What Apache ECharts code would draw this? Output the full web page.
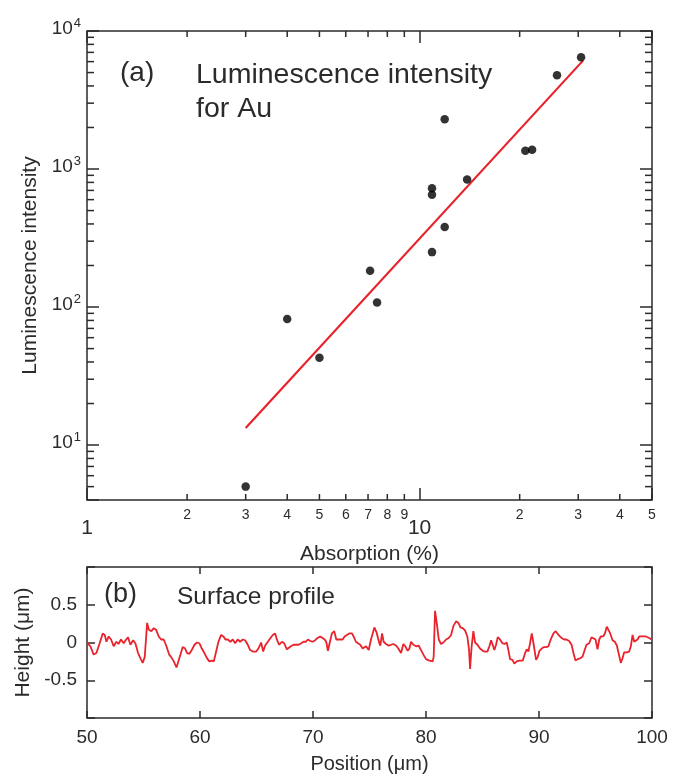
<!DOCTYPE html>
<html>
<head>
<meta charset="utf-8">
<script src="https://cdn.jsdelivr.net/npm/echarts@6/dist/echarts.min.js"></script>
<style>
  html, body { margin: 0; padding: 0; background: #fff; }
  #chart { width: 686px; height: 777px; }
</style>
</head>
<body>
<div id="chart"></div>
<script>
// (a) luminescence vs absorption
const absorption = [3.0, 4.0, 5.0, 7.1, 7.45, 10.9, 10.9, 10.9, 11.9, 11.9, 13.9, 20.8, 21.8, 25.9, 30.6];
const intensity = [5.0, 82, 43, 183, 108, 250, 650, 725, 380, 2290, 840, 1355, 1380, 4780, 6450];
const fitAbsorption = [3.0, 31.0];
const fitIntensity = [13.3, 6100];

// minor ticks of the log axes
const xMinorTicks = [2, 3, 4, 5, 6, 7, 8, 9, 20, 30, 40, 50];
const xMinorLabels = ['2', '3', '4', '5', '6', '7', '8', '9', '2', '3', '4', '5'];
const yMinorTicks = [5, 6, 7, 8, 9, 20, 30, 40, 50, 60, 70, 80, 90,
  200, 300, 400, 500, 600, 700, 800, 900, 2000, 3000, 4000, 5000, 6000, 7000, 8000, 9000];

// (b) surface profile
const positionUm = [
  50.00, 50.30, 50.59, 50.83, 51.12, 51.39, 51.57, 51.72, 51.92, 52.13, 52.36, 52.60, 52.78, 53.01,
  53.25, 53.46, 53.63, 53.84, 54.08, 54.28, 54.52, 54.73, 54.93, 55.11, 55.32, 55.47, 55.70, 55.91,
  56.11, 56.35, 56.56, 56.79, 57.03, 57.27, 57.44, 57.68, 57.92,
  58.03, 58.27, 58.47, 58.68, 58.86, 59.06, 59.27, 59.51, 59.74, 59.95, 60.16, 60.39, 60.63, 60.83,
  61.04, 61.22, 61.43, 61.63, 61.87, 62.08, 62.25, 62.46, 62.69, 62.90, 63.11, 63.34, 63.55, 63.79,
  63.99, 64.23, 64.44, 64.67, 64.97, 65.17, 65.41, 65.59, 65.77, 66.00, 66.24, 66.44, 66.65,
  66.80, 67.01, 67.25, 67.45, 67.69, 67.84, 68.04, 68.28, 68.49, 68.72, 68.96, 69.16, 69.37, 69.55,
  69.76, 69.96, 70.20, 70.40, 70.64, 70.85, 71.03, 71.17, 71.32, 71.47, 71.67, 71.88, 72.06, 72.21,
  72.41, 72.62, 72.80, 73.00, 73.21, 73.45, 73.59, 73.80, 73.98, 74.18, 74.39,
  74.69, 74.93, 75.13, 75.43, 75.63, 75.87, 75.96, 76.11, 76.25, 76.46, 76.67, 76.90, 77.11, 77.35,
  77.55, 77.79, 78.00, 78.17, 78.38, 78.53, 78.68, 78.88, 79.12, 79.35, 79.56, 79.77, 80.00, 80.30,
  80.59, 80.68, 80.80, 80.95, 81.13, 81.33, 81.54, 81.78, 82.01, 82.22, 82.43, 82.66, 82.87, 83.05, 83.25,
  83.45, 83.66, 83.81, 83.90, 84.04, 84.19, 84.34, 84.55, 84.78, 85.02, 85.22, 85.43, 85.61, 85.76,
  85.90, 86.05, 86.20, 86.35, 86.55, 86.76, 86.94, 87.14, 87.29, 87.44, 87.65, 87.82, 88.03, 88.27,
  88.56, 88.77, 88.92, 89.06, 89.21, 89.36, 89.51, 89.74, 89.89, 90.04, 90.24, 90.45, 90.63, 90.83,
  91.04, 91.28, 91.48,
  91.58, 91.78, 91.99, 92.23, 92.43, 92.67, 92.88, 93.05, 93.23, 93.41, 93.64, 93.85, 94.00, 94.20,
  94.44, 94.65, 94.82, 95.00, 95.18, 95.33, 95.47, 95.68, 95.83, 96.00, 96.15, 96.30, 96.51, 96.71,
  96.89, 97.04, 97.24, 97.39, 97.54, 97.78, 97.98, 98.13, 98.28, 98.43, 98.57, 98.72, 98.87, 99.02,
  99.16, 99.31, 99.46, 99.61, 99.75, 99.96
];
const heightUm = [
  0.00, -0.05, -0.16, -0.14, -0.01, 0.12, 0.10, 0.01, 0.08, 0.04, -0.05, 0.01, -0.02, 0.04,
  -0.01, 0.04, 0.07, -0.03, 0.03, -0.01, -0.14, -0.21, -0.27, -0.19, 0.26, 0.17, 0.15, 0.19,
  0.17, 0.08, 0.04, 0.04, -0.05, -0.16, -0.19, -0.25, -0.33,
  -0.34, -0.16, -0.06, -0.08, -0.14, -0.15, -0.10, -0.03, 0.00, -0.01, -0.08, -0.14, -0.21, -0.25,
  -0.24, -0.25, -0.12, 0.01, 0.10, 0.08, 0.04, 0.04, 0.01, 0.04, -0.01, 0.04, 0.01, 0.04,
  0.03, -0.03, -0.10, -0.12, -0.12, -0.08, 0.00, -0.12, -0.04, 0.01, 0.06, 0.10, 0.12,
  0.04, -0.03, 0.01, -0.01, -0.09, -0.11, -0.05, -0.03, -0.03, -0.03, -0.01, 0.01, 0.01, 0.04,
  0.02, 0.01, 0.03, 0.06, 0.08, 0.06, 0.04, 0.01, -0.11, -0.01, 0.12, 0.15, 0.04, 0.06,
  0.04, 0.04, 0.08, 0.10, 0.12, 0.12, 0.08, 0.01, -0.01, -0.03, -0.08,
  -0.05, -0.10, 0.04, 0.20, 0.13, -0.01, -0.04, 0.12, 0.01, -0.02, -0.04, -0.03, -0.02, -0.04,
  -0.08, -0.14, -0.02, -0.05, -0.11, -0.08, 0.01, -0.03, -0.05, -0.04, -0.10, -0.16, -0.22, -0.24,
  -0.25, -0.19, 0.42, 0.26, 0.04, -0.02, 0.00, 0.04, 0.06, 0.10, 0.22, 0.28, 0.26, 0.20, 0.19,
  0.16, 0.08, -0.10, -0.35, -0.05, 0.15, 0.00, -0.03, -0.08, -0.11, -0.12, -0.12, -0.05, 0.03,
  -0.03, -0.10, -0.03, 0.07, 0.04, -0.01, -0.02, 0.00, -0.10, -0.22, -0.23, -0.28, -0.25, -0.24,
  -0.24, -0.14, -0.09, -0.12, -0.01, 0.12, -0.01, -0.23, -0.19, -0.11, -0.08, -0.06, -0.06, -0.05,
  0.04, 0.12, 0.15,
  0.13, 0.09, 0.06, 0.04, 0.04, 0.02, -0.03, -0.14, -0.24, -0.22, -0.21, -0.19, -0.12, -0.03,
  -0.01, 0.07, 0.08, 0.04, -0.09, 0.04, 0.08, 0.08, 0.12, 0.21, 0.20, 0.12, 0.03, 0.01,
  -0.04, -0.14, -0.27, -0.21, -0.13, -0.13, -0.12, -0.05, 0.10, 0.01, -0.01, 0.04, 0.08, 0.10,
  0.08, 0.10, 0.08, 0.10, 0.06, 0.04
];

const font = "'Liberation Sans', Arial, sans-serif";
const ink = '#2b2b2b';
const red = '#e8232b';

const chart = echarts.init(document.getElementById('chart'), null, { renderer: 'canvas' });

function isDecade(v) {
  const e = Math.round(Math.log10(v));
  return Math.abs(v - Math.pow(10, e)) < 1e-6 * v;
}

const tickStyle = { show: true, inside: true, lineStyle: { color: ink, width: 1.5 } };

const option = {
  animation: false,
  backgroundColor: '#fff',
  textStyle: { fontFamily: font, color: ink },
  grid: [
    { left: 87, top: 31, width: 565, height: 469, show: true, borderColor: ink, borderWidth: 1.5, backgroundColor: 'transparent' },
    { left: 87, top: 567, width: 565, height: 151, show: true, borderColor: ink, borderWidth: 1.5, backgroundColor: 'transparent' }
  ],
  xAxis: [
    {
      type: 'log', gridIndex: 0, min: 1, max: 50, logBase: 10,
      axisLine: { show: false },
      axisTick: Object.assign({ length: 12 }, tickStyle),
      splitLine: { show: false },
      axisLabel: {
        margin: 18, fontSize: 21, color: ink, fontFamily: font,
        formatter: v => (isDecade(v) ? String(Math.round(v)) : '')
      },
      name: 'Absorption (%)', nameLocation: 'middle', nameGap: 36,
      nameTextStyle: { fontSize: 21, color: ink, fontFamily: font }
    },
    {
      type: 'log', gridIndex: 0, min: 1, max: 50, logBase: 10, position: 'top',
      axisLine: { show: false },
      axisTick: Object.assign({ length: 12 }, tickStyle),
      splitLine: { show: false },
      axisLabel: { show: false }
    },
    {
      type: 'value', gridIndex: 1, min: 50, max: 100, interval: 10,
      axisLine: { show: false, onZero: false },
      axisTick: Object.assign({ length: 7 }, tickStyle),
      splitLine: { show: false },
      axisLabel: { margin: 10, fontSize: 19, color: ink, fontFamily: font },
      name: 'Position (\u03bcm)', nameLocation: 'middle', nameGap: 36,
      nameTextStyle: { fontSize: 20, color: ink, fontFamily: font }
    },
    {
      type: 'value', gridIndex: 1, min: 50, max: 100, interval: 10, position: 'top',
      axisLine: { show: false, onZero: false },
      axisTick: Object.assign({ length: 7 }, tickStyle),
      splitLine: { show: false },
      axisLabel: { show: false }
    }
  ],
  yAxis: [
    {
      type: 'log', gridIndex: 0, min: 4, max: 10000, logBase: 10,
      axisLine: { show: false },
      axisTick: Object.assign({ length: 12 }, tickStyle),
      splitLine: { show: false },
      axisLabel: {
        margin: 6, color: ink, fontFamily: font,
        formatter: v => (isDecade(v) ? '{b|10}{s|' + Math.round(Math.log10(v)) + '}' : ''),
        rich: {
          b: { fontSize: 19, fontFamily: font, color: ink, padding: [0, 0, 4, 0] },
          s: { fontSize: 13, fontFamily: font, color: ink, padding: [0, 0, 16, 1] }
        }
      },
      name: 'Luminescence intensity', nameLocation: 'middle', nameGap: 46,
      nameTextStyle: { fontSize: 21, color: ink, fontFamily: font }
    },
    {
      type: 'log', gridIndex: 0, min: 4, max: 10000, logBase: 10, position: 'right',
      axisLine: { show: false },
      axisTick: Object.assign({ length: 12 }, tickStyle),
      splitLine: { show: false },
      axisLabel: { show: false }
    },
    {
      type: 'value', gridIndex: 1, min: -1, max: 1, interval: 0.5,
      axisLine: { show: false, onZero: false },
      axisTick: Object.assign({ length: 8 }, tickStyle),
      splitLine: { show: false },
      axisLabel: {
        margin: 10, fontSize: 19, color: ink, fontFamily: font,
        formatter: v => (Math.abs(v) === 1 ? '' : String(v))
      },
      name: 'Height (\u03bcm)', nameLocation: 'middle', nameGap: 50,
      nameTextStyle: { fontSize: 21, color: ink, fontFamily: font }
    },
    {
      type: 'value', gridIndex: 1, min: -1, max: 1, interval: 0.5, position: 'right',
      axisLine: { show: false, onZero: false },
      axisTick: Object.assign({ length: 8 }, tickStyle),
      splitLine: { show: false },
      axisLabel: { show: false }
    }
  ],
  graphic: [
    { type: 'text', left: 120, top: 59, style: { text: '(a)', font: '28px ' + font, fill: ink } },
    { type: 'text', left: 196, top: 58, style: { text: 'Luminescence intensity\nfor Au', font: '28.5px ' + font, fill: ink, lineHeight: 34 } },
    { type: 'text', left: 104, top: 581, style: { text: '(b)', font: '27px ' + font, fill: ink } },
    { type: 'text', left: 177, top: 585, style: { text: 'Surface profile', font: '24.5px ' + font, fill: ink } }
  ],
  series: [
    {
      type: 'line', xAxisIndex: 0, yAxisIndex: 0,
      data: fitAbsorption.map((x, i) => [x, fitIntensity[i]]),
      symbol: 'none', lineStyle: { color: red, width: 2.2 }, silent: true, z: 2
    },
    {
      type: 'scatter', xAxisIndex: 0, yAxisIndex: 0,
      data: absorption.map((x, i) => [x, intensity[i]]),
      symbol: 'circle', symbolSize: 8.5, itemStyle: { color: '#000' }, z: 3
    },
    {
      // minor ticks + small labels of the log x axis
      type: 'custom', xAxisIndex: 0, yAxisIndex: 0, silent: true, clip: false, z: 5,
      data: xMinorTicks.map(v => [v, 100]),
      renderItem: (params, api) => {
        const cs = params.coordSys;
        const px = api.coord([api.value(0), api.value(1)])[0];
        const bottom = cs.y + cs.height;
        const ls = { stroke: ink, lineWidth: 1.5 };
        return {
          type: 'group',
          children: [
            { type: 'line', shape: { x1: px, y1: bottom, x2: px, y2: bottom - 6 }, style: ls },
            { type: 'line', shape: { x1: px, y1: cs.y, x2: px, y2: cs.y + 6 }, style: ls },
            {
              type: 'text', x: px, y: bottom + 8,
              style: { text: xMinorLabels[params.dataIndex], font: '14px ' + font, fill: ink, align: 'center', verticalAlign: 'top' }
            }
          ]
        };
      }
    },
    {
      // minor ticks of the log y axis
      type: 'custom', xAxisIndex: 0, yAxisIndex: 0, silent: true, clip: false, z: 5,
      data: yMinorTicks.map(v => [10, v]),
      renderItem: (params, api) => {
        const cs = params.coordSys;
        const py = api.coord([api.value(0), api.value(1)])[1];
        const right = cs.x + cs.width;
        const ls = { stroke: ink, lineWidth: 1.5 };
        return {
          type: 'group',
          children: [
            { type: 'line', shape: { x1: cs.x, y1: py, x2: cs.x + 7, y2: py }, style: ls },
            { type: 'line', shape: { x1: right, y1: py, x2: right - 7, y2: py }, style: ls }
          ]
        };
      }
    },
    {
      type: 'line', xAxisIndex: 2, yAxisIndex: 2,
      data: positionUm.map((x, i) => [x, heightUm[i]]),
      symbol: 'none', lineStyle: { color: red, width: 1.8 }, silent: true
    }
  ]
};

chart.setOption(option);
</script>
</body>
</html>
